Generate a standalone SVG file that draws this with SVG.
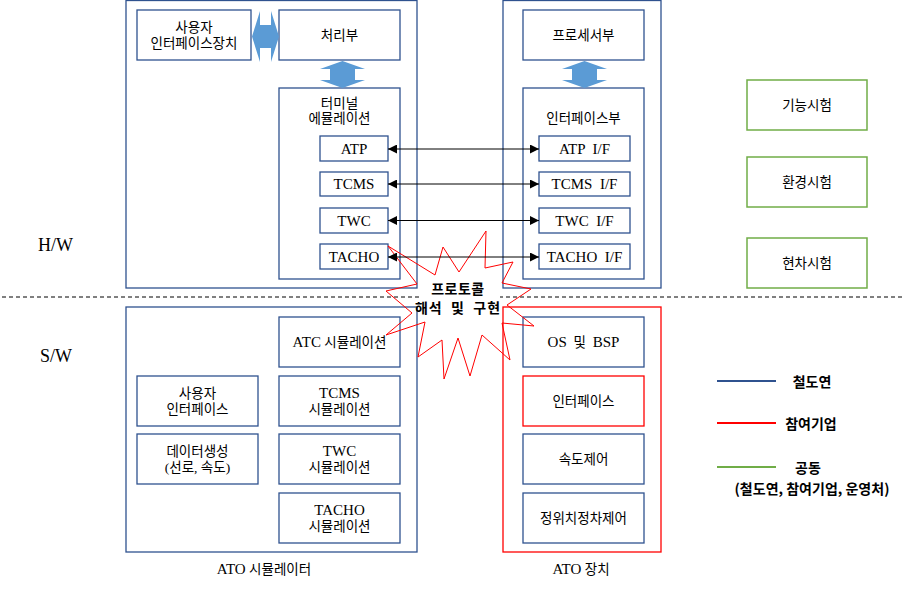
<svg xmlns="http://www.w3.org/2000/svg" width="905" height="593" viewBox="0 0 905 593">
<style>
.bx{fill:#fff;stroke:#2F528F;stroke-width:1.3}
.bo{fill:none;stroke:#2F528F;stroke-width:1.3}
.rb{fill:none;stroke:#FF0000;stroke-width:1.3}
.rbw{fill:#fff;stroke:#FF0000;stroke-width:1.3}
.gb{fill:#fff;stroke:#70AD47;stroke-width:1.5}
.t{font-family:"Liberation Serif","Noto Sans CJK KR",serif;font-size:13.5px;fill:#000;text-anchor:middle;dominant-baseline:central}
.e{font-size:15px}
.lg{font-family:"Noto Sans CJK KR","Liberation Sans",sans-serif;font-size:14px;font-weight:bold;fill:#000;text-anchor:middle;dominant-baseline:central}
.hw{font-family:"Liberation Serif",serif;font-size:18px;fill:#000}
.ba{fill:#5B9BD5}
.cn{stroke:#000;stroke-width:1;fill:none;marker-start:url(#ah);marker-end:url(#ah)}
</style>
<defs>
<marker id="ah" viewBox="0 0 10 10" refX="10" refY="5" markerWidth="9" markerHeight="9" markerUnits="userSpaceOnUse" orient="auto-start-reverse">
<path d="M0,0 L10,5 L0,10 z" fill="#000"/>
</marker>
</defs>
<rect width="905" height="593" fill="#fff"/>

<g id="labels-hw-sw">
<text class="hw" x="38" y="251">H/W</text>
<text class="hw" x="40" y="362">S/W</text>
</g>
<line x1="2" y1="297" x2="902" y2="297" stroke="#000" stroke-width="1" stroke-dasharray="4,3"/>

<g id="hw-terminal">
<rect class="bo" x="126" y="0.5" width="291" height="287.5"/>
</g>
<g id="user-if-device">
<rect class="bx" x="137" y="10" width="114" height="50"/>
<text class="t" x="194" y="27">사용자</text>
<text class="t" x="194" y="43">인터페이스장치</text>
</g>
<g id="processor-unit">
<rect class="bx" x="279" y="10" width="121" height="50"/>
<text class="t" x="339.5" y="35">처리부</text>
</g>
<g id="terminal-emulation">
<rect class="bx" x="279" y="88" width="121" height="191"/>
<text class="t" x="339.5" y="103">터미널</text>
<text class="t" x="339.5" y="118">에뮬레이션</text>
</g>
<g id="atp"><rect class="bx" x="320" y="136" width="68" height="25"/><text class="t e" x="354" y="148.5">ATP</text></g>
<g id="tcms"><rect class="bx" x="320" y="172" width="68" height="24"/><text class="t e" x="354" y="184">TCMS</text></g>
<g id="twc"><rect class="bx" x="320" y="208" width="68" height="25"/><text class="t e" x="354" y="220.5">TWC</text></g>
<g id="tacho"><rect class="bx" x="320" y="244" width="68" height="25"/><text class="t e" x="354" y="256.5">TACHO</text></g>

<g id="hw-ato">
<rect class="bo" x="503" y="0.5" width="158" height="287.5"/>
</g>
<g id="processor"><rect class="bx" x="523" y="10" width="121" height="50"/><text class="t" x="583.5" y="35">프로세서부</text></g>
<g id="interface-unit"><rect class="bx" x="523" y="88" width="121" height="191"/><text class="t" x="583.5" y="118">인터페이스부</text></g>
<g id="atp-if"><rect class="bx" x="539" y="136" width="91" height="25"/><text class="t e" x="584.5" y="148.5" xml:space="preserve">ATP  I/F</text></g>
<g id="tcms-if"><rect class="bx" x="539" y="172" width="91" height="24"/><text class="t e" x="584.5" y="184" xml:space="preserve">TCMS  I/F</text></g>
<g id="twc-if"><rect class="bx" x="539" y="208" width="91" height="25"/><text class="t e" x="584.5" y="220.5" xml:space="preserve">TWC  I/F</text></g>
<g id="tacho-if"><rect class="bx" x="539" y="244" width="91" height="25"/><text class="t e" x="584.5" y="256.5" xml:space="preserve">TACHO  I/F</text></g>

<g id="block-arrows">
<polygon class="ba" points="252,36.5 260,11 260,25 271,25 271,11 279,36.5 271,62 271,48 260,48 260,62"/>
<polygon class="ba" points="342.5,61 365,69 355,69 355,80 365,80 342.5,88 320,80 330,80 330,69 320,69"/>
<polygon class="ba" points="584.5,61 607,69 597,69 597,80 607,80 584.5,88 562,80 572,80 572,69 562,69"/>
</g>

<g id="sw-simulator">
<rect class="bo" x="126" y="307" width="291" height="245"/>
<text class="t" x="264" y="569"><tspan class="e">ATO</tspan> 시뮬레이터</text>
</g>
<g id="atc-sim"><rect class="bx" x="279" y="317" width="121" height="50"/><text class="t" x="339.5" y="342"><tspan class="e">ATC</tspan> 시뮬레이션</text></g>
<g id="tcms-sim"><rect class="bx" x="279" y="376" width="121" height="50"/><text class="t e" x="339.5" y="393">TCMS</text><text class="t" x="339.5" y="409">시뮬레이션</text></g>
<g id="twc-sim"><rect class="bx" x="279" y="434" width="121" height="50"/><text class="t e" x="339.5" y="451">TWC</text><text class="t" x="339.5" y="467">시뮬레이션</text></g>
<g id="tacho-sim"><rect class="bx" x="279" y="493" width="121" height="50"/><text class="t e" x="339.5" y="510">TACHO</text><text class="t" x="339.5" y="526">시뮬레이션</text></g>
<g id="user-if"><rect class="bx" x="137" y="376" width="121" height="50"/><text class="t" x="197.5" y="393">사용자</text><text class="t" x="197.5" y="409">인터페이스</text></g>
<g id="data-gen"><rect class="bx" x="137" y="434" width="121" height="50"/><text class="t" x="197.5" y="451">데이터생성</text><text class="t" x="197.5" y="467">(선로, 속도)</text></g>

<g id="sw-ato">
<rect class="rb" x="503" y="307" width="158" height="245"/>
<text class="t" x="581" y="569"><tspan class="e">ATO</tspan> 장치</text>
</g>
<g id="os-bsp"><rect class="bx" x="523" y="317" width="121" height="50"/><text class="t" x="583.5" y="342" xml:space="preserve"><tspan class="e">OS</tspan>  및  <tspan class="e">BSP</tspan></text></g>
<g id="interface"><rect class="rbw" x="523" y="376" width="121" height="50"/><text class="t" x="583.5" y="401">인터페이스</text></g>
<g id="speed-ctrl"><rect class="bx" x="523" y="434" width="121" height="50"/><text class="t" x="583.5" y="459">속도제어</text></g>
<g id="stop-ctrl"><rect class="bx" x="523" y="493" width="121" height="50"/><text class="t" x="583.5" y="518">정위치정차제어</text></g>

<g id="tests">
<g id="func-test"><rect class="gb" x="747" y="80" width="120" height="50"/><text class="t" x="807" y="105">기능시험</text></g>
<g id="env-test"><rect class="gb" x="747" y="157" width="120" height="50"/><text class="t" x="807" y="182">환경시험</text></g>
<g id="car-test"><rect class="gb" x="747" y="238" width="120" height="50"/><text class="t" x="807" y="263">현차시험</text></g>
</g>

<g id="legend">
<line x1="717" y1="381" x2="776" y2="381" stroke="#2F528F" stroke-width="2"/>
<text class="lg" x="812" y="381">철도연</text>
<line x1="717" y1="423" x2="776" y2="423" stroke="#FF0000" stroke-width="2"/>
<text class="lg" x="811" y="423">참여기업</text>
<line x1="717" y1="467" x2="776" y2="467" stroke="#70AD47" stroke-width="2"/>
<text class="lg" x="808" y="467">공동</text>
<text class="lg" x="812" y="488">(철도연, 참여기업, 운영처)</text>
</g>

<g id="protocol-burst">
<polygon fill="none" stroke="#FF0000" stroke-width="1" points="486,231 485,268 513,262 502,283 531,289 507,305 534,326 502,323 510,360 482,335 470,376 458,338 444,379 442,340 418,357 425,322 386,335 412,313 386,291 417,284 388,246 435,275 443,247 459,272"/>
<rect x="420" y="282" width="80" height="33" fill="#fff"/>
<text class="lg" x="458" y="288" letter-spacing="0.5">프로토콜</text>
<text class="lg" x="458" y="307" letter-spacing="1" xml:space="preserve">해석  및  구현</text>
</g>

<g id="connectors">
<line class="cn" x1="388" y1="149" x2="539" y2="149"/>
<line class="cn" x1="388" y1="184" x2="539" y2="184"/>
<line class="cn" x1="388" y1="220.5" x2="539" y2="220.5"/>
<line class="cn" x1="388" y1="257" x2="539" y2="257"/>
</g>
</svg>
